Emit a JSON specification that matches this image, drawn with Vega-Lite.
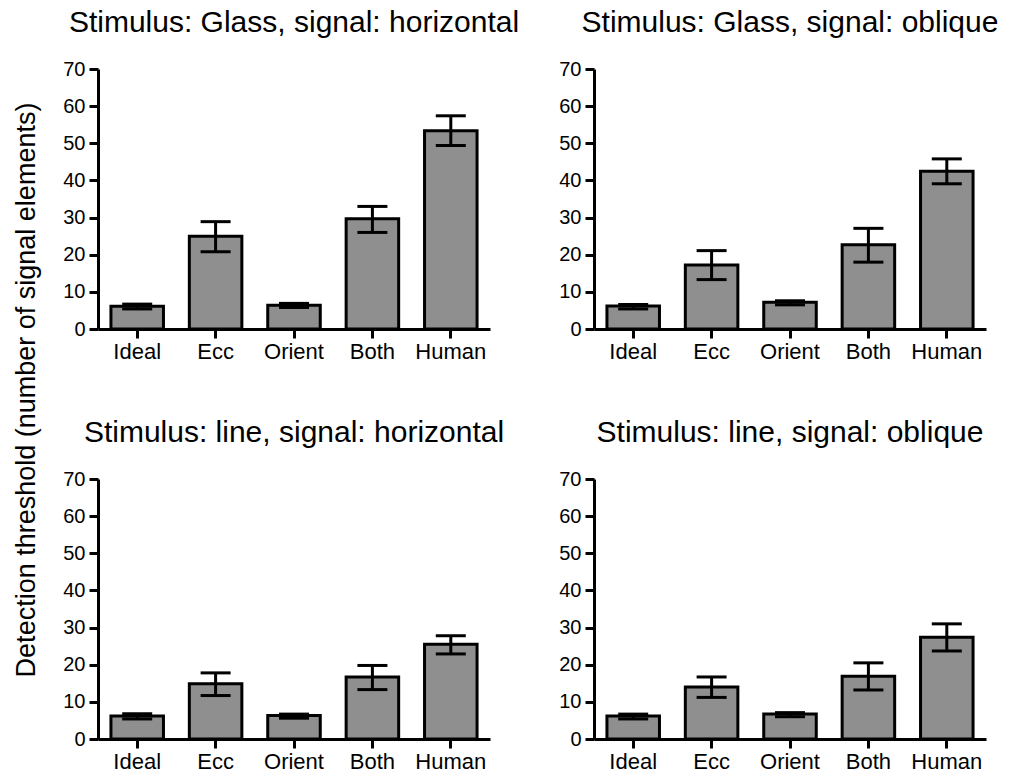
{
  "$schema": "https://vega.github.io/schema/vega-lite/v6.json",
  "background": "white",
  "padding": {"left": 12, "top": 8, "right": 0, "bottom": 0},
  "title": {"text": "Detection threshold (number of signal elements)", "orient": "left", "anchor": "middle", "fontSize": 27, "fontWeight": "normal", "font": "Liberation Sans", "color": "black", "offset": 22},
  "data": {"values": [
    {"panel": "Stimulus: Glass, signal: horizontal", "model": "Ideal", "value": 6.1, "lo": 5.4, "hi": 6.7},
    {"panel": "Stimulus: Glass, signal: horizontal", "model": "Ecc", "value": 25.0, "lo": 20.8, "hi": 28.9},
    {"panel": "Stimulus: Glass, signal: horizontal", "model": "Orient", "value": 6.4, "lo": 5.8, "hi": 6.9},
    {"panel": "Stimulus: Glass, signal: horizontal", "model": "Both", "value": 29.7, "lo": 26.0, "hi": 33.0},
    {"panel": "Stimulus: Glass, signal: horizontal", "model": "Human", "value": 53.4, "lo": 49.4, "hi": 57.4},
    {"panel": "Stimulus: Glass, signal: oblique", "model": "Ideal", "value": 6.2, "lo": 5.4, "hi": 6.6},
    {"panel": "Stimulus: Glass, signal: oblique", "model": "Ecc", "value": 17.2, "lo": 13.3, "hi": 21.1},
    {"panel": "Stimulus: Glass, signal: oblique", "model": "Orient", "value": 7.2, "lo": 6.5, "hi": 7.6},
    {"panel": "Stimulus: Glass, signal: oblique", "model": "Both", "value": 22.7, "lo": 18.0, "hi": 27.1},
    {"panel": "Stimulus: Glass, signal: oblique", "model": "Human", "value": 42.5, "lo": 39.1, "hi": 45.8},
    {"panel": "Stimulus: line, signal: horizontal", "model": "Ideal", "value": 6.2, "lo": 5.4, "hi": 6.8},
    {"panel": "Stimulus: line, signal: horizontal", "model": "Ecc", "value": 14.9, "lo": 11.7, "hi": 17.8},
    {"panel": "Stimulus: line, signal: horizontal", "model": "Orient", "value": 6.3, "lo": 5.6, "hi": 6.7},
    {"panel": "Stimulus: line, signal: horizontal", "model": "Both", "value": 16.7, "lo": 13.3, "hi": 19.8},
    {"panel": "Stimulus: line, signal: horizontal", "model": "Human", "value": 25.5, "lo": 22.9, "hi": 27.8},
    {"panel": "Stimulus: line, signal: oblique", "model": "Ideal", "value": 6.2, "lo": 5.4, "hi": 6.7},
    {"panel": "Stimulus: line, signal: oblique", "model": "Ecc", "value": 14.0, "lo": 11.2, "hi": 16.7},
    {"panel": "Stimulus: line, signal: oblique", "model": "Orient", "value": 6.7, "lo": 6.0, "hi": 7.1},
    {"panel": "Stimulus: line, signal: oblique", "model": "Both", "value": 16.9, "lo": 13.2, "hi": 20.5},
    {"panel": "Stimulus: line, signal: oblique", "model": "Human", "value": 27.4, "lo": 23.7, "hi": 31.0}
  ]},
  "facet": {
    "field": "panel",
    "type": "nominal",
    "sort": ["Stimulus: Glass, signal: horizontal", "Stimulus: Glass, signal: oblique", "Stimulus: line, signal: horizontal", "Stimulus: line, signal: oblique"],
    "header": {"title": null, "labelFontSize": 30, "labelFont": "Liberation Sans", "labelColor": "black", "labelPadding": 21}
  },
  "columns": 2,
  "spacing": {"column": 38, "row": 56},
  "resolve": {"axis": {"x": "independent", "y": "independent"}},
  "spec": {
    "width": 392,
    "height": 260,
    "encoding": {
      "x": {"field": "model", "type": "nominal", "sort": ["Ideal", "Ecc", "Orient", "Both", "Human"],
        "scale": {"paddingInner": 0.33, "paddingOuter": 0.165},
        "axis": {"title": null, "labelAngle": 0, "labelFontSize": 22, "labelFont": "Liberation Sans", "labelColor": "black", "labelPadding": 3, "domainColor": "black", "domainWidth": 3, "tickColor": "black", "tickWidth": 3, "tickSize": 9}}
    },
    "layer": [
      {"mark": {"type": "bar", "fill": "#8f8f8f", "stroke": "black", "strokeWidth": 3},
       "encoding": {"y": {"field": "value", "type": "quantitative",
         "scale": {"domain": [0, 70]},
         "axis": {"title": null, "values": [0, 10, 20, 30, 40, 50, 60, 70], "labelOverlap": false, "grid": false, "labelFontSize": 20, "labelFont": "Liberation Sans", "labelColor": "black", "labelPadding": 4, "domainColor": "black", "domainWidth": 3, "tickColor": "black", "tickWidth": 3, "tickSize": 9}}}},
      {"mark": {"type": "rule", "color": "black", "strokeWidth": 3, "opacity": 1},
       "encoding": {"y": {"field": "lo", "type": "quantitative",
         "axis": {"title": null, "values": [0, 10, 20, 30, 40, 50, 60, 70], "labelOverlap": false, "grid": false, "labelFontSize": 20, "labelFont": "Liberation Sans", "labelColor": "black", "labelPadding": 4, "domainColor": "black", "domainWidth": 3, "tickColor": "black", "tickWidth": 3, "tickSize": 9}}, "y2": {"field": "hi"}}},
      {"mark": {"type": "tick", "color": "black", "thickness": 3, "size": 30, "orient": "horizontal", "opacity": 1},
       "encoding": {"y": {"field": "lo", "type": "quantitative",
         "axis": {"title": null, "values": [0, 10, 20, 30, 40, 50, 60, 70], "labelOverlap": false, "grid": false, "labelFontSize": 20, "labelFont": "Liberation Sans", "labelColor": "black", "labelPadding": 4, "domainColor": "black", "domainWidth": 3, "tickColor": "black", "tickWidth": 3, "tickSize": 9}}}},
      {"mark": {"type": "tick", "color": "black", "thickness": 3, "size": 30, "orient": "horizontal", "opacity": 1},
       "encoding": {"y": {"field": "hi", "type": "quantitative",
         "axis": {"title": null, "values": [0, 10, 20, 30, 40, 50, 60, 70], "labelOverlap": false, "grid": false, "labelFontSize": 20, "labelFont": "Liberation Sans", "labelColor": "black", "labelPadding": 4, "domainColor": "black", "domainWidth": 3, "tickColor": "black", "tickWidth": 3, "tickSize": 9}}}}
    ]
  },
  "config": {"view": {"stroke": null}, "font": "Liberation Sans"}
}
